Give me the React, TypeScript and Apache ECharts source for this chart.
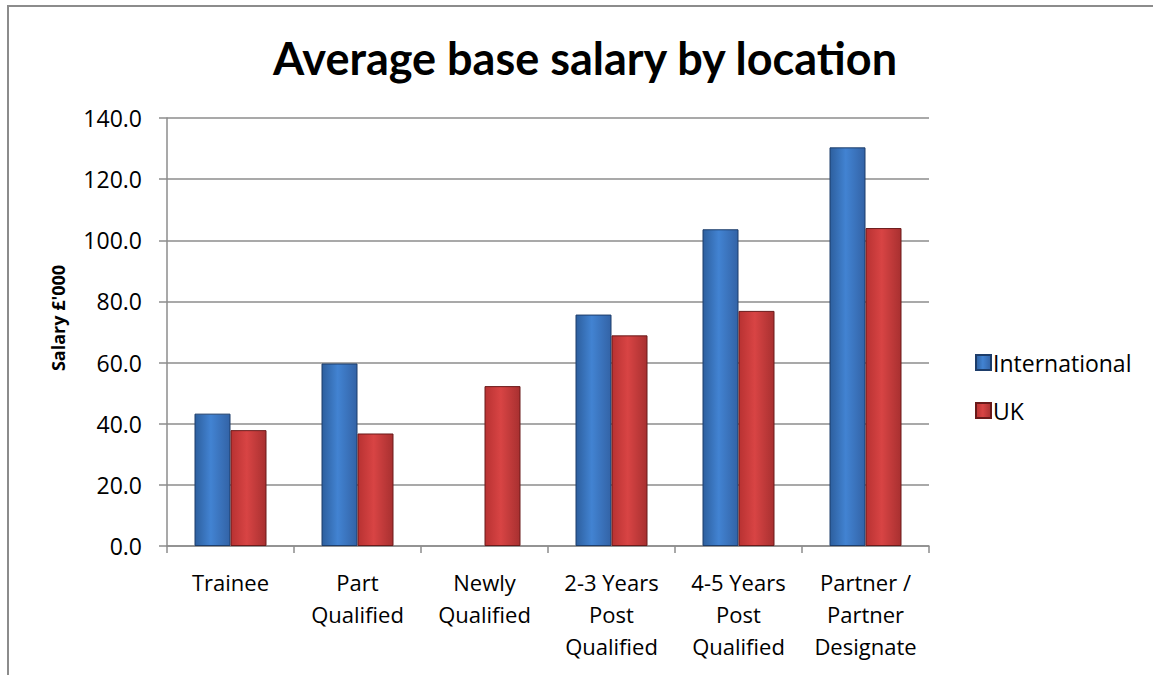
import React, { useEffect, useRef } from "react";
import * as echarts from "echarts";

const categories = [
  "Trainee",
  "Part\nQualified",
  "Newly\nQualified",
  "2-3 Years\nPost\nQualified",
  "4-5 Years\nPost\nQualified",
  "Partner /\nPartner\nDesignate",
];
const international: (number | null)[] = [43.3, 59.7, null, 75.7, 103.6, 130.4];
const uk: number[] = [37.9, 36.8, 52.3, 68.9, 76.9, 104.0];
const yTicks = { min: 0, max: 140, interval: 20 };
const yAxisName = "Salary £'000";

const FONT = "'Open Sans', Lato, sans-serif";
const TITLE_FONT = "Lato, 'Open Sans', sans-serif";

const blueFill = new echarts.graphic.LinearGradient(0, 0, 1, 0, [
  { offset: 0, color: "#2d5f9e" },
  { offset: 0.45, color: "#4283d2" },
  { offset: 1, color: "#3363a6" },
]);
const redFill = new echarts.graphic.LinearGradient(0, 0, 1, 0, [
  { offset: 0, color: "#b83232" },
  { offset: 0.45, color: "#d84444" },
  { offset: 1, color: "#a83030" },
]);

export default function App() {
  const ref = useRef<HTMLDivElement>(null);
  useEffect(() => {
    document.body.style.margin = "0";
    const chart = echarts.init(ref.current!, undefined, { renderer: "svg" });
    chart.setOption({
      animation: false,
      backgroundColor: "#ffffff",
      textStyle: { fontFamily: FONT },
      title: {
        text: "Average base salary by location",
        left: 580,
        textAlign: "center",
        top: 30,
        textStyle: { fontFamily: TITLE_FONT, fontSize: 45, fontWeight: "bold", color: "#000" },
      },
      legend: {
        orient: "vertical",
        left: 970,
        top: 346,
        itemWidth: 15,
        itemHeight: 15,
        itemGap: 25,
        icon: "rect",
        textStyle: { fontFamily: FONT, fontSize: 23, color: "#000", padding: [0, 0, 0, -3] },
        data: ["International", "UK"],
      },
      grid: { left: 167, right: 224, top: 118, bottom: 129 },
      xAxis: {
        type: "category",
        data: categories,
        axisLine: { lineStyle: { color: "#8c8c8c", width: 1.5 } },
        axisTick: { show: true, length: 7, lineStyle: { color: "#8c8c8c", width: 1.5 } },
        axisLabel: {
          interval: 0,
          margin: 20,
          fontFamily: FONT,
          fontSize: 22,
          lineHeight: 32,
          color: "#000",
        },
      },
      yAxis: {
        type: "value",
        min: yTicks.min,
        max: yTicks.max,
        interval: yTicks.interval,
        axisLine: { show: true, lineStyle: { color: "#8c8c8c", width: 1.5 } },
        axisTick: { show: true, length: 8, lineStyle: { color: "#8c8c8c", width: 1.5 } },
        splitLine: { lineStyle: { color: "#8c8c8c", width: 1.5 } },
        axisLabel: {
          margin: 25,
          fontFamily: FONT,
          fontSize: 23,
          color: "#000",
          formatter: (v: number) => v.toFixed(1),
        },
      },
      series: [
        {
          name: "International",
          type: "bar",
          data: international,
          barWidth: 36,
          barGap: "0%",
          itemStyle: { color: blueFill, borderColor: "#1d3d6a", borderWidth: 1 },
        },
        {
          name: "UK",
          type: "bar",
          data: uk,
          barWidth: 36,
          barGap: "0%",
          itemStyle: { color: redFill, borderColor: "#6a1a1a", borderWidth: 1 },
        },
      ],
      graphic: [
        { type: "line", shape: { x1: 7, y1: 6, x2: 1153, y2: 6 }, style: { stroke: "#8c8c8c", lineWidth: 2 } },
        { type: "line", shape: { x1: 8, y1: 6, x2: 8, y2: 675 }, style: { stroke: "#8c8c8c", lineWidth: 2 } },
        {
          type: "text",
          x: 58,
          y: 318,
          rotation: Math.PI / 2,
          style: {
            text: yAxisName,
            fontFamily: FONT,
            fontSize: 18,
            fontWeight: "bold",
            fill: "#000",
            align: "center",
            verticalAlign: "middle",
          },
        },
      ],
    });
    return () => chart.dispose();
  }, []);
  return <div ref={ref} style={{ width: 1153, height: 675 }} />;
}
